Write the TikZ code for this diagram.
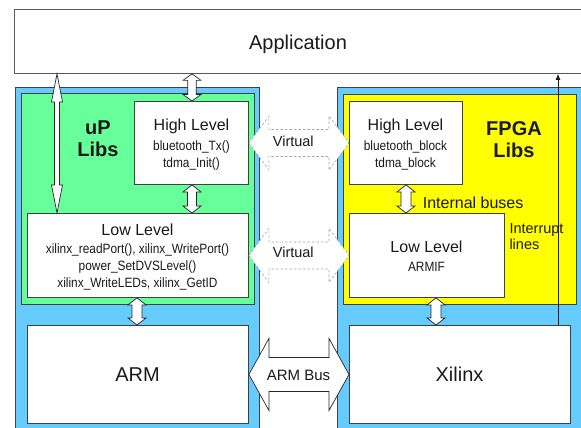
\documentclass[tikz,border=0pt]{standalone}
\usepackage{fontspec}
\setmainfont{Liberation Sans}
\newfontfamily\narrowfont[FakeStretch=0.88]{Liberation Sans}
\usetikzlibrary{calc,arrows.meta}
\definecolor{panelblue}{HTML}{66CCFF}
\definecolor{libgreen}{HTML}{66FF99}
\definecolor{libyellow}{HTML}{FFFF00}
\definecolor{ink}{HTML}{1A1A1A}
\tikzset{
  box/.style={draw=black!75, line width=0.9pt, fill=white, inner sep=0pt, anchor=north west},
  panel/.style={draw=black!75, line width=0.9pt, inner sep=0pt, anchor=north west},
  fatarr/.style={draw=black!85, line width=0.7pt, fill=white, line join=miter},
  virt/.style={draw=black!35, dash pattern=on 2.5pt off 2pt, line width=0.6pt, fill=white},
  titletext/.style={font=\fontsize{16}{16}\selectfont, text=ink, anchor=base, inner sep=0pt},
  subtext/.style={font=\narrowfont\fontsize{13.5}{13.5}\selectfont, text=ink, anchor=base, inner sep=0pt},
  bigtext/.style={font=\fontsize{20}{20}\selectfont, text=ink, anchor=base, inner sep=0pt},
  libtext/.style={font=\bfseries\fontsize{20}{20}\selectfont, text=ink, anchor=base, inner sep=0pt},
  midtext/.style={font=\fontsize{15}{15}\selectfont, text=ink, anchor=base, inner sep=0pt},
  smalltext/.style={font=\fontsize{14.5}{14.5}\selectfont, text=ink, anchor=base west, inner sep=0pt},
}
% vertical double arrow: x, top anchor, bottom anchor, shaft half, head half, head length
\newcommand\vdarr[6]{%
  \draw[fatarr] let \p1=(#2), \p2=(#3) in
    (#1pt,\y1) -- ({#1pt+#5pt},{\y1-#6pt}) -- ({#1pt+#4pt},{\y1-#6pt})
    -- ({#1pt+#4pt},{\y2+#6pt}) -- ({#1pt+#5pt},{\y2+#6pt}) -- (#1pt,\y2)
    -- ({#1pt-#5pt},{\y2+#6pt}) -- ({#1pt-#4pt},{\y2+#6pt})
    -- ({#1pt-#4pt},{\y1-#6pt}) -- ({#1pt-#5pt},{\y1-#6pt}) -- cycle;}
% horizontal double arrow: style, left anchor, right anchor, shaft half, head half, head length
\newcommand\hdarr[6]{%
  \draw[#1] let \p1=(#2), \p2=(#3) in
    (\x1,\y1) -- ({\x1+#6pt},{\y1+#5pt}) -- ({\x1+#6pt},{\y1+#4pt})
    -- ({\x2-#6pt},{\y1+#4pt}) -- ({\x2-#6pt},{\y1+#5pt}) -- (\x2,\y1)
    -- ({\x2-#6pt},{\y1-#5pt}) -- ({\x2-#6pt},{\y1-#4pt})
    -- ({\x1+#6pt},{\y1-#4pt}) -- ({\x1+#6pt},{\y1-#5pt}) -- cycle;}
\begin{document}
\begin{tikzpicture}[x=1pt,y=-1pt]
\useasboundingbox (0,0) rectangle (581,428);
\clip (0,0) rectangle (581,428);
\fill[white] (0,0) rectangle (581,428);

% Application
\node[box, draw=black!65, minimum width=568pt, minimum height=63.5pt] (app) at (14,9.5) {};
\node[bigtext] (apptxt) at (298,49.3) {Application};

% panels
\node[panel, fill=panelblue, minimum width=244pt, minimum height=353pt] (lpanel) at (15,87) {};
\node[panel, fill=panelblue, minimum width=263pt, minimum height=353pt] (rpanel) at (337,87) {};
\node[panel, fill=libgreen, minimum width=233pt, minimum height=211pt] (uplibs) at (21,93) {};
\node[panel, fill=libyellow, minimum width=233pt, minimum height=210pt] (fplibs) at (343,94) {};

% inner boxes
\node[box, minimum width=114pt, minimum height=83pt] (lhl) at (134,101) {};
\node[box, minimum width=221pt, minimum height=84pt] (lll) at (27,213) {};
\node[box, minimum width=221pt, minimum height=98pt] (arm) at (27,325) {};
\node[box, minimum width=113pt, minimum height=83pt] (rhl) at (349,101) {};
\node[box, minimum width=155pt, minimum height=84pt] (rll) at (349,213) {};
\node[box, minimum width=221pt, minimum height=98pt] (xil) at (349,325) {};

% texts
\node[libtext] (uptxt1) at (98,134) {uP};
\node[libtext] (uptxt2) at (98,156) {Libs};
\node[libtext] (fptxt1) at (514,135.7) {FPGA};
\node[libtext] (fptxt2) at (514,157.7) {Libs};

\node[titletext] (lhlt) at (191.5,130.7) {High Level};
\node[subtext] (lhl1) at (191.5,150) {bluetooth\_Tx()};
\node[subtext] (lhl2) at (191.5,167.3) {tdma\_Init()};

\node[titletext] (lllt) at (137.5,235.3) {Low Level};
\node[subtext] (lll1) at (137.5,253.3) {xilinx\_readPort(), xilinx\_WritePort()};
\node[subtext] (lll2) at (137.5,270.7) {power\_SetDVSLevel()};
\node[subtext] (lll3) at (137.5,287.3) {xilinx\_WriteLEDs, xilinx\_GetID};

\node[titletext] (rhlt) at (405.5,130.7) {High Level};
\node[subtext] (rhl1) at (405.5,150) {bluetooth\_block};
\node[subtext] (rhl2) at (405.5,167.3) {tdma\_block};

\node[titletext] (rllt) at (426.5,252.3) {Low Level};
\node[subtext] (rll1) at (426.5,271) {ARMIF};

\node[bigtext] (armt) at (137.5,381.7) {ARM};
\node[bigtext] (xilt) at (459.5,381.7) {Xilinx};

\node[titletext, anchor=base west] (ibus) at (422.7,208.3) {Internal buses};
\node[smalltext] (irq1) at (509.3,233.3) {Interrupt};
\node[smalltext] (irq2) at (509.3,249.3) {lines};

% interrupt line
\coordinate (irqx) at (558,0);
\draw[line width=0.7pt, draw=ink, -{Latex[length=6pt,width=5pt]}] (xil.north -| irqx) -- (app.south -| irqx);

% vertical double arrows
\vdarr{57}{app.south}{lll.north}{2.5}{5.5}{28}
\vdarr{192}{app.south}{lhl.north}{4.2}{9}{6.5}
\vdarr{192}{lhl.south}{lll.north}{4.5}{9}{7}
\vdarr{137}{lll.south}{arm.north}{5}{9}{7}
\vdarr{406}{rhl.south}{rll.north}{5}{9}{7}
\vdarr{436}{rll.south}{xil.north}{5}{9}{7}

% virtual arrows
\hdarr{virt}{lhl.east}{rhl.west}{13.5}{27}{20}
\hdarr{virt}{lll.east}{rll.west}{13.5}{27}{20}
\node[midtext, font=\fontsize{14.5}{14.5}\selectfont] (v1) at (293.3,146) {Virtual};
\node[midtext, font=\fontsize{14.5}{14.5}\selectfont] (v2) at (293.3,257.3) {Virtual};

% ARM bus
\hdarr{fatarr}{arm.east}{xil.west}{17}{36}{20}
\node[midtext] (armbus) at (298.5,380) {ARM Bus};
\end{tikzpicture}
\end{document}
